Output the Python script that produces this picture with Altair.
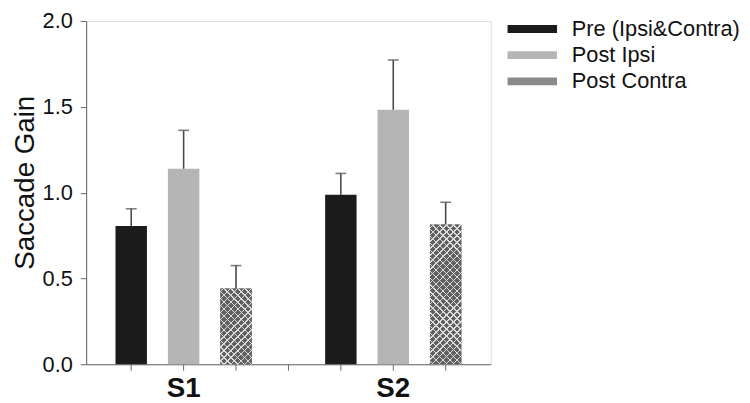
import altair as alt
import pandas as pd

# ---- data ----
subjects = ["S1", "S2"]
conditions = ["Pre (Ipsi&Contra)", "Post Ipsi", "Post Contra"]
pre_gain = [0.805, 0.987]
post_ipsi_gain = [1.139, 1.483]
post_contra_gain = [0.442, 0.815]
pre_err = [0.101, 0.125]
post_ipsi_err = [0.224, 0.290]
post_contra_err = [0.133, 0.129]
y_ticks = [0.0, 0.5, 1.0, 1.5, 2.0]

# ---- styling ----
colors = ["#1b1b1b", "#b5b5b5", "#8a8a8a"]   # legend swatch colours
HATCH_BG, HATCH_LINE = "#606060", "#dcdcdc"
FONT = "Liberation Sans"
W_PLOT, H_PLOT = 409, 347
Y_MAX = 2.0
PAD_INNER, PAD_OUTER = 0.4, 0.56

gains = [pre_gain, post_ipsi_gain, post_contra_gain]
errs = [pre_err, post_ipsi_err, post_contra_err]

rows, slots = [], []
for i, s in enumerate(subjects):
    if i > 0:
        slots.append(f"gap{i}")
    for j, c in enumerate(conditions):
        slot = f"{s}|{c}"
        slots.append(slot)
        rows.append(dict(subject=s, condition=c, slot=slot,
                         gain=gains[j][i], upper=gains[j][i] + errs[j][i]))
df = pd.DataFrame(rows)

n = len(slots)
step = W_PLOT / (n - PAD_INNER + 2 * PAD_OUTER)
band_w = step * (1 - PAD_INNER)


def hatch_gradient(h_px, w_px, direction, line_col, bg_col, period=7.0, lw=1.4):
    L = w_px + h_px * h_px / w_px
    span = w_px + h_px
    stops = [alt.GradientStop(offset=0, color=bg_col)]
    s = period / 2
    while s - lw / 2 < span:
        a = max(0.0, (s - lw / 2) / L)
        b = min(1.0, (s + lw / 2) / L)
        stops += [alt.GradientStop(offset=a, color=bg_col),
                  alt.GradientStop(offset=a, color=line_col),
                  alt.GradientStop(offset=b, color=line_col),
                  alt.GradientStop(offset=b, color=bg_col)]
        s += period
    stops.append(alt.GradientStop(offset=1, color=bg_col))
    if direction == "up":
        x1, y1, x2, y2 = 0, 0, 1, h_px / w_px
    else:
        x1, y1, x2, y2 = 0, 1, 1, 1 - h_px / w_px
    return alt.LinearGradient(gradient="linear", stops=stops, x1=x1, y1=y1, x2=x2, y2=y2)


label_expr = ("split(datum.value, '|')[1] === '" + conditions[1] +
              "' ? split(datum.value, '|')[0] : ''")

x_enc = alt.X("slot:N",
              scale=alt.Scale(domain=slots, paddingInner=PAD_INNER, paddingOuter=PAD_OUTER),
              axis=alt.Axis(title=None, labelExpr=label_expr, labelAngle=0,
                            labelFontSize=28, labelFontWeight="bold", labelFont=FONT,
                            labelColor="#111", tickSize=6, tickColor="#666",
                            domainColor="#666", labelPadding=5))
y_scale = alt.Scale(domain=[0, Y_MAX], nice=False)
y_enc = alt.Y("gain:Q", scale=y_scale,
              axis=alt.Axis(title="Saccade Gain", values=y_ticks, format=".1f", grid=False,
                            labelFontSize=22, labelFont=FONT, labelColor="#111",
                            tickSize=6, tickColor="#666", domainColor="#666",
                            labelPadding=8, titleFontSize=28, titleFont=FONT,
                            titleFontWeight="normal", titleColor="#111",
                            titleX=-53, titleY=163, titleBaseline="alphabetic"))

base = alt.Chart(df)

legend = alt.Legend(
    title=None, orient="none", legendX=440, legendY=-3,
    symbolType="M-2.5,-0.4H2.5V0.4H-2.5Z", symbolSize=400,
    symbolStrokeWidth=0, labelFontSize=22, labelFont=FONT, labelLimit=0,
    labelColor="#111", labelOffset=29, rowPadding=4.5,
)

bars = base.mark_bar().encode(
    x=x_enc, y=y_enc,
    color=alt.Color("condition:N", scale=alt.Scale(domain=conditions, range=colors),
                    legend=legend),
)

layers = [bars]
for i, s in enumerate(subjects):
    h_px = post_contra_gain[i] / Y_MAX * H_PLOT
    slot = f"{s}|{conditions[2]}"
    for d, bg in (("up", HATCH_BG), ("down", "rgba(0,0,0,0)")):
        layers.append(
            base.transform_filter(alt.datum.slot == slot)
            .mark_bar(fill=hatch_gradient(h_px, band_w, d, HATCH_LINE, bg))
            .encode(x=x_enc, y=y_enc)
        )

err_rule = base.mark_rule(color="#4a4a4a", strokeWidth=1.6).encode(
    x=x_enc, y="gain:Q", y2="upper:Q")
err_cap = base.mark_tick(color="#4a4a4a", orient="horizontal", size=11, thickness=1.6).encode(
    x=x_enc, y=alt.Y("upper:Q", scale=y_scale))
layers += [err_rule, err_cap]

chart = alt.layer(*layers).properties(
    width=W_PLOT, height=H_PLOT,
    autosize=alt.AutoSizeParams(type="none"),
    padding={"left": 79, "top": 11, "right": 254, "bottom": 37},
).configure_view(stroke="#666", strokeWidth=1).configure(background="white")

chart.save("out.html", embed_options={"renderer": "svg", "actions": False})
